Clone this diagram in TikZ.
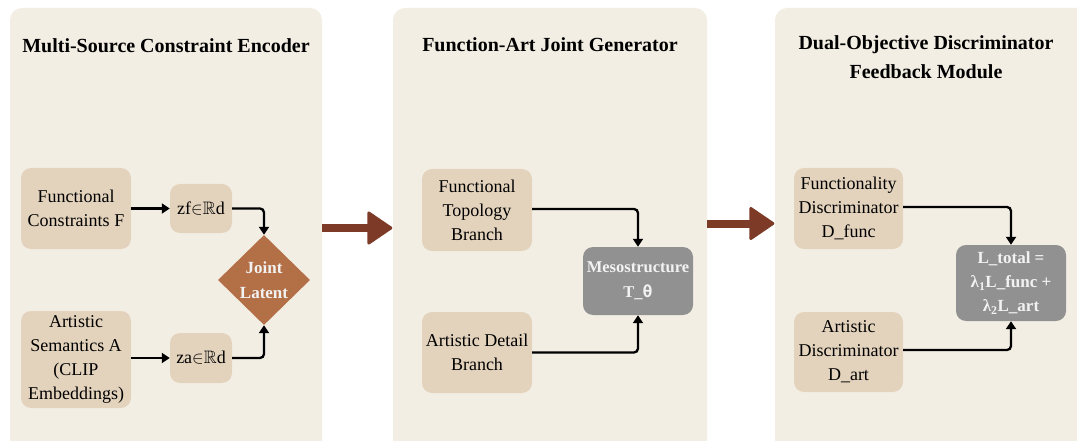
\documentclass[tikz,border=0pt]{standalone}
\usepackage{fontspec}
\usepackage{amssymb}
\setmainfont{Liberation Serif}
\newfontfamily\dejamono{DejaVu Sans Mono}
\usetikzlibrary{arrows.meta,shapes.geometric,calc}
\definecolor{panelbg}{HTML}{F3EEE4}
\definecolor{nodebg}{HTML}{E3D3BD}
\definecolor{diamc}{HTML}{B36F45}
\definecolor{grayc}{HTML}{919191}
\definecolor{arrowc}{HTML}{7D3B27}
\definecolor{lighttext}{HTML}{F2F2F2}
\begin{document}
\begin{tikzpicture}[x=1pt,y=-1pt,
  panel/.style={fill=panelbg, rounded corners=12pt, inner sep=0pt},
  title/.style={font=\fontsize{20}{28.5}\selectfont\bfseries, align=center, anchor=base},
  box/.style={fill=nodebg, rounded corners=10pt, align=center, inner sep=0pt,
    font=\fontsize{18}{24}\selectfont},
  graybox/.style={fill=grayc, rounded corners=10pt, align=center, inner sep=0pt,
    text=lighttext, font=\fontsize{17}{24}\selectfont\bfseries},
  joint/.style={diamond, fill=diamc, inner sep=0pt, minimum width=92pt, minimum height=90pt,
    align=center, text=lighttext, font=\fontsize{17}{25}\selectfont\bfseries},
  conn/.style={line width=2.3pt, rounded corners=4pt, -{Triangle[length=8pt,width=10pt]}},
]
\useasboundingbox (0,0) rectangle (1077,441);
\fill[white] (0,0) rectangle (1077,441);

% panels
\node[panel, minimum width=312pt, minimum height=452pt] (P1) at (166,234) {};
\node[panel, minimum width=314pt, minimum height=452pt] (P2) at (550,234) {};
\node[panel, minimum width=314pt, minimum height=452pt] (P3) at (932,234) {};

% titles
\node[title] (T1) at (166,52.5) {Multi-Source Constraint Encoder};
\node[title] (T2) at (550,52) {Function-Art Joint Generator};
\node[title] (T3) at (926,78.5) {Dual-Objective Discriminator\\Feedback Module};

% big arrows between panels
\coordinate (a1s) at (P1.east |- 0,228);
\coordinate (a1e) at (P2.west |- 0,228);
\fill[arrowc] ($(a1s)+(0,-4)$) rectangle ($(a1e)+(-24,4)$);
\filldraw[arrowc, line width=3pt, line join=round] ($(a1e)+(-24,-15)$) -- ($(a1e)+(-2,0)$) -- ($(a1e)+(-24,15)$) -- cycle;
\coordinate (a2s) at (P2.east |- 0,223.5);
\coordinate (a2e) at (P3.west |- 0,223.5);
\fill[arrowc] ($(a2s)+(0,-4)$) rectangle ($(a2e)+(-24,4)$);
\filldraw[arrowc, line width=3pt, line join=round] ($(a2e)+(-24,-15)$) -- ($(a2e)+(-2,0)$) -- ($(a2e)+(-24,15)$) -- cycle;

% panel 1
\node[box, minimum width=110pt, minimum height=81pt] (F) at (76,208.5) {Functional\\Constraints F};
\node[box, minimum width=62pt, minimum height=49pt] (zf) at (201,208.5) {zf${\in}\mathbb{R}$d};
\node[box, minimum width=110pt, minimum height=97pt] (A) at (76,359.5) {Artistic\\Semantics A\\(CLIP\\Embeddings)};
\node[box, minimum width=62pt, minimum height=50pt] (za) at (201,358) {za${\in}\mathbb{R}$d};
\node[joint] (J) at (264,280) {Joint\\Latent};
\draw[conn] (F.east) -- (zf.west);
\draw[conn] (A.east |- za) -- (za.west);
\draw[conn] (zf.east) -| (J.north);
\draw[conn] (za.east) -| (J.south);

% panel 2
\node[box, minimum width=110pt, minimum height=82pt] (FT) at (477,210) {Functional\\Topology\\Branch};
\node[box, minimum width=110pt, minimum height=81pt] (AD) at (477,352.5) {Artistic Detail\\Branch};
\node[graybox, minimum width=110pt, minimum height=68pt, font=\fontsize{16.5}{25}\selectfont\bfseries] (M) at (638,281) {Mesostructure\\T\_{\dejamono θ}};
\draw[conn] (FT.east |- 0,209) -| (M.north);
\draw[conn] (AD.east) -| (M.south);

% panel 3
\node[box, minimum width=109pt, minimum height=81pt] (DF) at (848.5,208.5) {Functionality\\Discriminator\\D\_func};
\node[box, minimum width=109pt, minimum height=80pt] (DA) at (848.5,352) {Artistic\\Discriminator\\D\_art};
\node[graybox, minimum width=110pt, minimum height=76pt] (L) at (1011,283) {L\_total =\\λ\textsubscript{1}L\_func +\\λ\textsubscript{2}L\_art};
\draw[conn] (DF.east |- 0,207) -| (L.north);
\draw[conn] (DA.east |- 0,350) -| (L.south);
\end{tikzpicture}
\end{document}
